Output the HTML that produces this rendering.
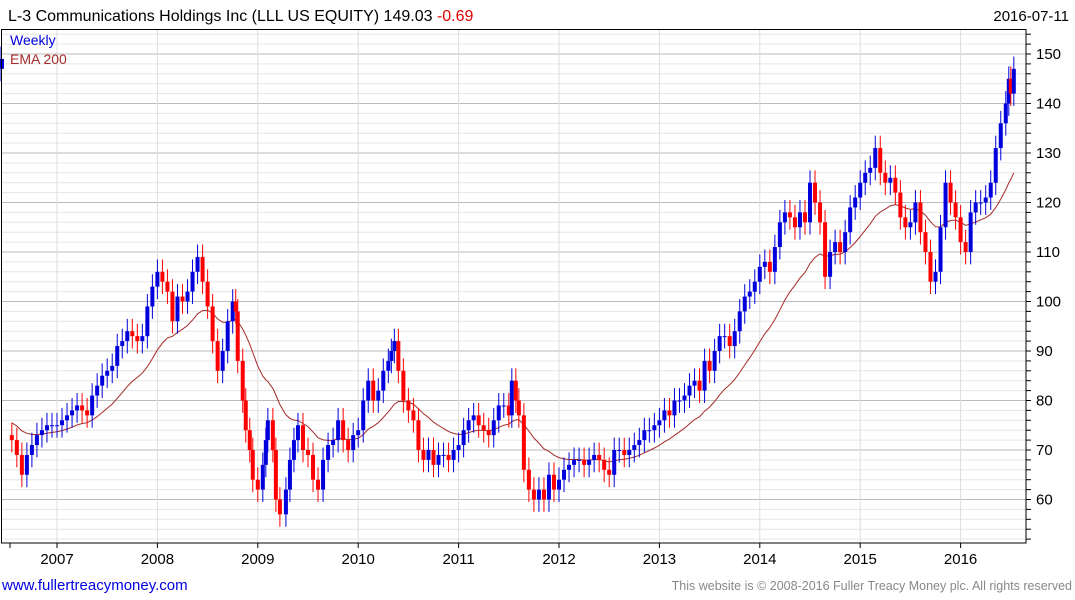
<!DOCTYPE html>
<html><head><meta charset="utf-8">
<style>
body{margin:0;width:1075px;height:600px;background:#fff;overflow:hidden;font-family:"Liberation Sans","DejaVu Sans",sans-serif;}
#wrap{position:relative;width:1075px;height:600px;}
svg{position:absolute;left:0;top:0;}
</style></head>
<body><div id="wrap">
<svg id="chart" width="1075" height="600">
<text x="8" y="21" font-size="16" fill="#000">L-3 Communications Holdings Inc (LLL US EQUITY) 149.03 <tspan fill="#e00000">-0.69</tspan></text>
<text x="1069" y="21" font-size="15" fill="#000" text-anchor="end">2016-07-11</text>
<g id="grid"></g>
<g id="ema"></g>
<g id="bars"></g>
<rect x="1.5" y="29.5" width="1024.5" height="513.5" fill="none" stroke="#000" stroke-width="1"/>
<g id="axes"></g>
<text x="10" y="45" font-size="14" fill="#0000e0">Weekly</text>
<text x="10" y="64" font-size="14" fill="#a52a2a">EMA 200</text>
<text x="2" y="590" font-size="15" fill="#0000e0">www.fullertreacymoney.com</text>
<text x="1072" y="590" font-size="12.5" fill="#888" text-anchor="end">This website is © 2008-2016 Fuller Treacy Money plc. All rights reserved</text>
</svg>
</div>
<script>
const dates=[2006.55,2006.6,2006.65,2006.7,2006.75,2006.8,2006.85,2006.9,2006.95,2007.0,2007.05,2007.1,2007.15,2007.2,2007.25,2007.3,2007.35,2007.4,2007.45,2007.5,2007.55,2007.6,2007.65,2007.7,2007.75,2007.8,2007.85,2007.9,2007.95,2008.0,2008.05,2008.1,2008.15,2008.2,2008.25,2008.3,2008.35,2008.4,2008.45,2008.5,2008.55,2008.6,2008.65,2008.7,2008.75,2008.78,2008.8,2008.85,2008.88,2008.92,2008.95,2009.0,2009.05,2009.08,2009.1,2009.15,2009.18,2009.22,2009.28,2009.32,2009.36,2009.4,2009.45,2009.5,2009.55,2009.6,2009.65,2009.7,2009.75,2009.8,2009.85,2009.9,2009.95,2010.0,2010.05,2010.1,2010.15,2010.2,2010.25,2010.3,2010.33,2010.36,2010.4,2010.45,2010.5,2010.55,2010.6,2010.65,2010.7,2010.75,2010.8,2010.85,2010.9,2010.95,2011.0,2011.05,2011.1,2011.15,2011.2,2011.25,2011.3,2011.35,2011.4,2011.45,2011.5,2011.53,2011.57,2011.6,2011.65,2011.7,2011.75,2011.8,2011.85,2011.9,2011.95,2012.0,2012.05,2012.1,2012.15,2012.2,2012.25,2012.3,2012.35,2012.4,2012.45,2012.5,2012.55,2012.6,2012.65,2012.7,2012.75,2012.8,2012.85,2012.9,2012.95,2013.0,2013.05,2013.1,2013.15,2013.2,2013.25,2013.3,2013.35,2013.4,2013.45,2013.5,2013.55,2013.6,2013.65,2013.7,2013.75,2013.8,2013.85,2013.9,2013.95,2014.0,2014.05,2014.1,2014.15,2014.2,2014.25,2014.3,2014.35,2014.4,2014.45,2014.5,2014.55,2014.6,2014.65,2014.7,2014.75,2014.8,2014.85,2014.9,2014.95,2015.0,2015.05,2015.1,2015.15,2015.2,2015.25,2015.3,2015.35,2015.4,2015.45,2015.5,2015.55,2015.6,2015.65,2015.7,2015.75,2015.8,2015.85,2015.9,2015.95,2016.0,2016.05,2016.1,2016.15,2016.2,2016.25,2016.3,2016.35,2016.4,2016.45,2016.48,2016.5,2016.53];
const closes=[72,69,65,69,71,73,74,75,75,75,76,77,78,79,78,77,81,83,85,86,87,91,92,94,93,92,93,99,103,106,104,102,96,101,100,102,106,109,104,99,92,86,90,96,100,98,88,80,74,70,64,62,67,72,76,70,60,57,62,68,72,75,70,69,64,62,68,71,72,76,72,70,73,74,80,84,80,82,86,88,90,92,86,80,78,76,70,68,70,67,69,69,68,70,71,74,76,77,75,74,73,76,79,79,77,84,80,77,66,62,60,62,60,65,62,64,66,67,68,68,67,68,69,68,66,65,70,70,69,70,71,72,74,74,75,76,78,77,80,80,81,83,84,82,88,86,90,93,93,91,94,98,101,102,104,107,108,106,111,116,118,117,115,118,116,124,120,116,105,110,112,110,114,119,121,124,126,127,131,126,124,125,122,117,115,116,120,114,110,104,106,115,124,120,117,112,110,118,120,120,121,124,131,136,140,145,142,147,149];
const yTicks=[60,70,80,90,100,110,120,130,140,150];
const xYears=[2007,2008,2009,2010,2011,2012,2013,2014,2015,2016];

const NS="http://www.w3.org/2000/svg";
function X(t){return 57+(t-2007)*100.4;}
function Y(v){return 54+(150-v)*4.95;}
function mk(tag,attrs,parent){const e=document.createElementNS(NS,tag);for(const k in attrs)e.setAttribute(k,attrs[k]);parent.appendChild(e);return e;}
const grid=document.getElementById('grid'),axes=document.getElementById('axes'),bars=document.getElementById('bars'),emaG=document.getElementById('ema');

for(let v=52;v<=154;v+=2){const y=Y(v);if(y<30||y>542)continue;
 const major=v%10===0;
 const l=mk('line',{x1:2,x2:1026,y1:y,y2:y,stroke:major?'#bbb':'#e6e6e6','stroke-width':1},grid);
 
 
 const t=mk('line',{x1:1026,x2:1031,y1:y,y2:y,stroke:'#000','stroke-width':1},axes);
 
 
}
yTicks.forEach(v=>{const t=mk('text',{x:1036,y:Y(v)+5,'font-size':15,fill:'#000'},axes);t.textContent=v;
 
 });
xYears.forEach(yr=>{const x=X(yr);
 const l=mk('line',{x1:x,x2:x,y1:30,y2:543,stroke:'#ddd','stroke-width':1},grid);
 
 
 const tk=mk('line',{x1:x,x2:x,y1:543,y2:548,stroke:'#000','stroke-width':1},axes);
 
 
 const t=mk('text',{x:x,y:564,'font-size':15,fill:'#000','text-anchor':'middle'},axes);t.textContent=yr;
 
 });
const t0=mk('line',{x1:10,x2:10,y1:543,y2:548,stroke:'#000'},axes);



// EMA
let ema=75.5,pts=[];
closes.forEach((c,i)=>{const dt=i?dates[i]-dates[i-1]:0;const a=Math.min(1,dt/0.5);ema=ema+a*(c-ema);pts.push(X(dates[i]).toFixed(1)+','+Y(ema).toFixed(1));});
const pl=mk('polyline',{points:pts.join(' '),fill:'none',stroke:'#a52a2a','stroke-width':1},emaG);



// bars
closes.forEach((c,i)=>{const o=i?closes[i-1]:73;const x=X(dates[i]);const up=c>=o;const col=up?'#0000dd':'#ff0000';
 const hi=Math.max(o,c)+2.5,lo=Math.min(o,c)-2.5;
 const g=mk('g',{},bars);
 
 
 mk('line',{x1:x,x2:x,y1:Y(hi),y2:Y(lo),stroke:col,'stroke-width':1},g);
 const top=Y(Math.max(o,c)),bot=Y(Math.min(o,c));
 mk('rect',{x:x-2,y:top,width:4,height:Math.max(1,bot-top),fill:col},g);
});
</script>
</body></html>
